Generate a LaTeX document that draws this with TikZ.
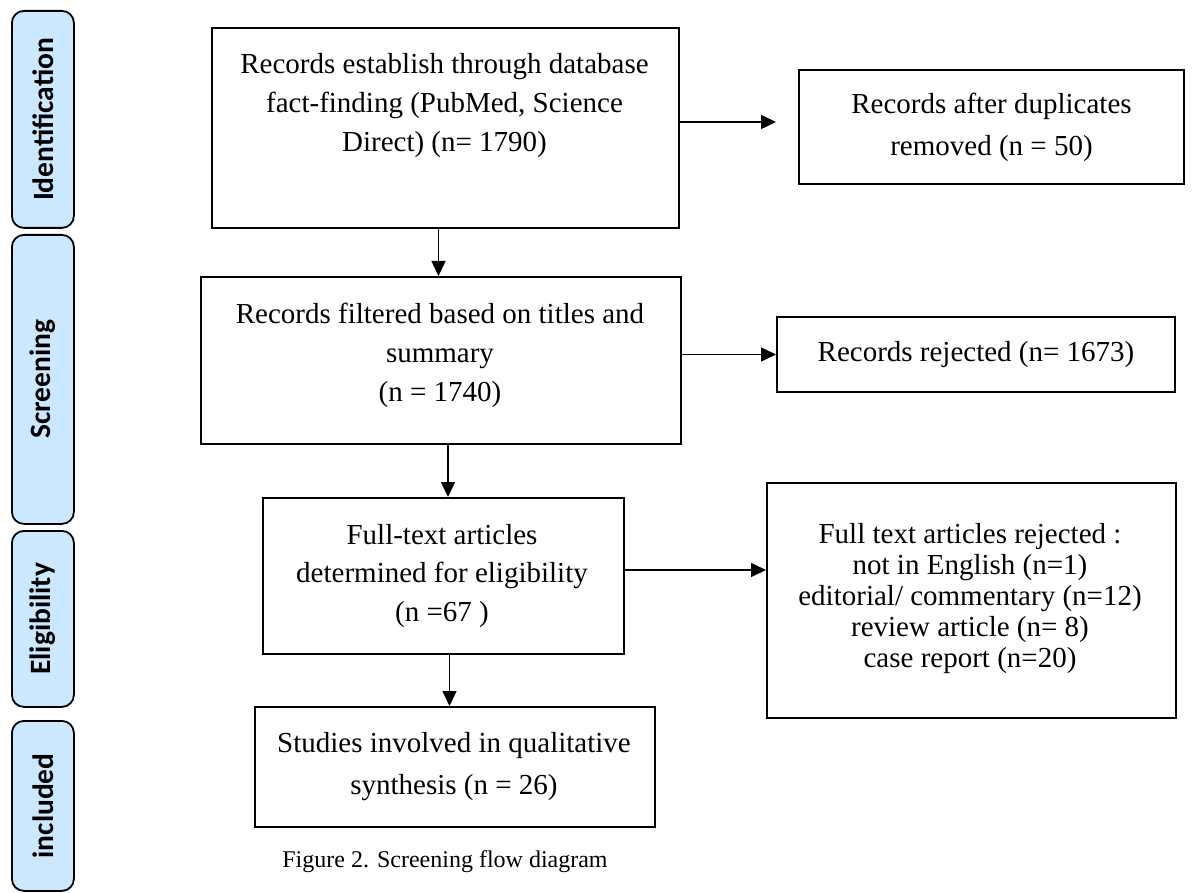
\documentclass[tikz,border=0pt]{standalone}
\usepackage{fontspec}
\setmainfont{Liberation Serif}
\newfontfamily\tabfont{Carlito}
\usetikzlibrary{arrows.meta}
\definecolor{tabblue}{RGB}{204,232,255}
\begin{document}
\begin{tikzpicture}[x=1pt,y=-1pt,
  stage/.style={draw=black, line width=1.8pt, fill=tabblue, rounded corners=12pt, inner sep=0pt, anchor=north west},
  stagetxt/.style={font={\fontsize{29.5}{31}\selectfont\tabfont\bfseries}, rotate=90, inner sep=0pt},
  boxnode/.style={draw=black, line width=2pt, inner sep=0pt, anchor=north west},
  txt/.style={font={\fontsize{29}{39}\selectfont}, align=center, inner sep=0pt},
  arr/.style={line width=1.5pt, -{Triangle[length=15pt,width=14pt]}},
]
\useasboundingbox (0,0) rectangle (1196,893);

% stage tabs
\node[stage, minimum width=62pt, minimum height=217pt] (s1) at (11,10) {};
\node[stage, minimum width=62pt, minimum height=289pt] (s2) at (11,234) {};
\node[stage, minimum width=62pt, minimum height=176pt] (s3) at (11,530) {};
\node[stage, minimum width=62pt, minimum height=170pt] (s4) at (11,720) {};
\node[stagetxt] (s1t) at (s1.center) {Identification};
\node[stagetxt] (s2t) at (s2.center) {Screening};
\node[stagetxt] (s3t) at (s3.center) {Eligibility};
\node[stagetxt] (s4t) at (s4.center) {included};

% boxes
\node[boxnode, minimum width=467pt, minimum height=200pt] (b1) at (211,27) {};
\node[boxnode, minimum width=385pt, minimum height=114pt] (b4) at (798,69) {};
\node[boxnode, minimum width=480pt, minimum height=167pt] (b2) at (200,276) {};
\node[boxnode, minimum width=398pt, minimum height=75pt] (b3) at (776,316) {};
\node[boxnode, minimum width=361pt, minimum height=156pt] (b5) at (262,497) {};
\node[boxnode, minimum width=409pt, minimum height=235pt] (b6) at (766,482) {};
\node[boxnode, minimum width=400pt, minimum height=120pt] (b7) at (254,706) {};

% texts
\node[txt] (b1t) at (444.5,106) {Records establish through database\\fact-finding (PubMed, Science\\Direct) (n= 1790)};
\node[txt, font={\fontsize{29}{42}\selectfont}] (b4t) at (b4.center) {Records after duplicates\\removed (n = 50)};
\node[txt, font={\fontsize{29}{39}\selectfont}] (b2t) at (440,355) {Records filtered based on titles and\\summary\\(n = 1740)};
\node[txt] (b3t) at (b3.center) {Records rejected (n= 1673)};
\node[txt, font={\fontsize{29}{38.5}\selectfont}] (b5t) at (442,576) {Full-text articles\\determined for eligibility\\(n =67 )};
\node[txt, font={\fontsize{29}{31}\selectfont}] (b6t) at (970,599) {Full text articles rejected :\\not in English (n=1)\\editorial/ commentary (n=12)\\review article (n= 8)\\case report (n=20)};
\node[txt, font={\fontsize{29}{42}\selectfont}] (b7t) at (454,767) {Studies involved in qualitative\\synthesis (n = 26)};
\node[txt, font={\fontsize{24}{26}\selectfont}] (cap) at (445,862) {Figure 2. Screening flow diagram};

% arrows
\draw[arr, shorten >=22pt] ([yshift=6pt]b1.east) -- ([yshift=6pt]b1.east -| b4.west);
\draw[arr] ([xshift=-7pt]b1.south) -- ([xshift=-7pt]b1.south |- b2.north);
\draw[arr] (b2.east |- b3.west) -- (b3.west);
\draw[arr] ([xshift=4.5pt]b5.north |- b2.south) -- ([xshift=4.5pt]b5.north);
\draw[arr] ([yshift=6pt]b5.east) -- ([yshift=6pt]b5.east -| b6.west);
\draw[arr] ([xshift=6pt]b5.south) -- ([xshift=6pt]b5.south |- b7.north);
\end{tikzpicture}
\end{document}
